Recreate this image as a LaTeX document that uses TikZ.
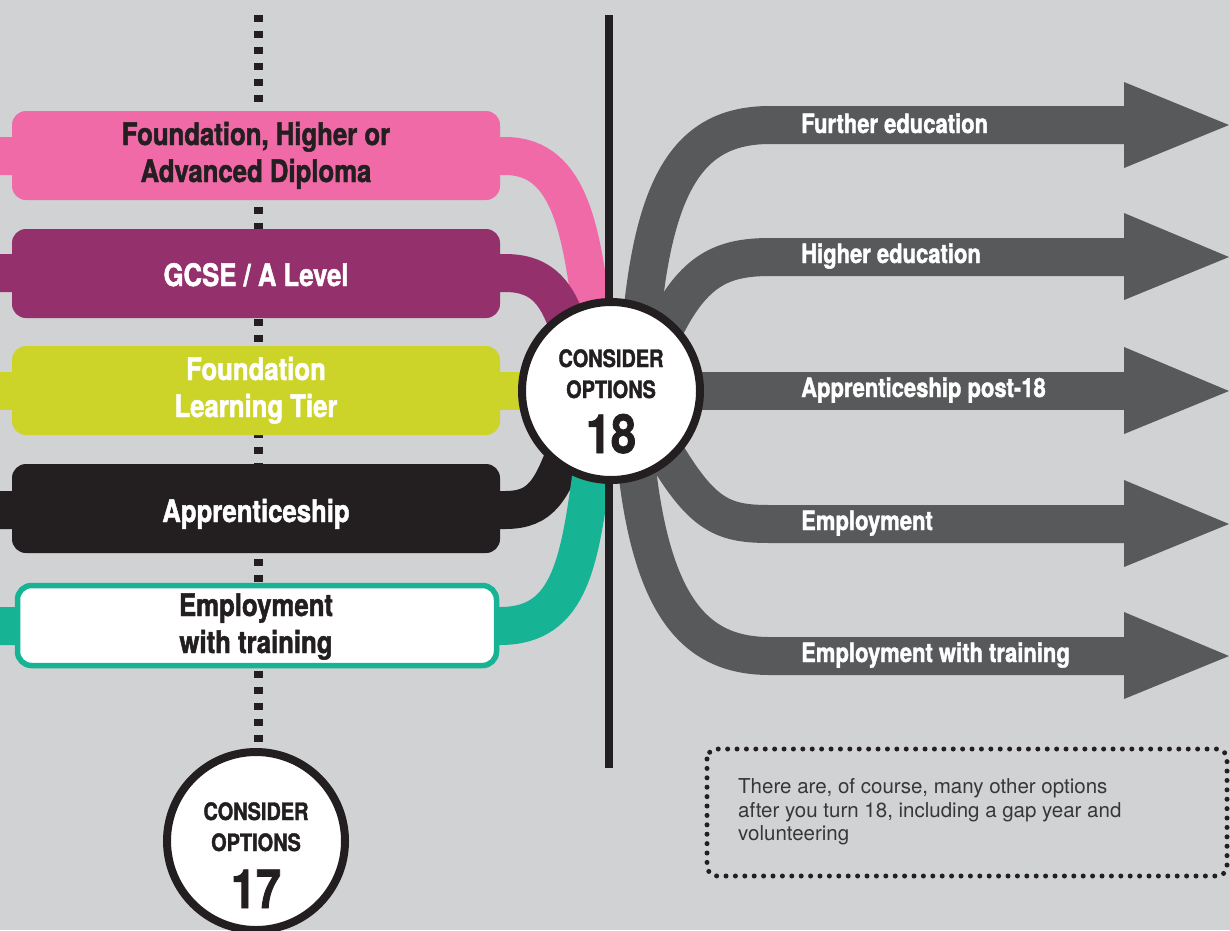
\documentclass[tikz,border=0pt]{standalone}
\usepackage{fontspec}
\newfontfamily\hfont{TeX Gyre Heros Bold}[FakeStretch=0.83,FakeBold=1.5]
\newfontfamily\nfont{TeX Gyre Heros}
\definecolor{bgc}{RGB}{209,210,212}
\definecolor{pinkc}{RGB}{240,106,167}
\definecolor{magc}{RGB}{148,48,108}
\definecolor{limec}{RGB}{204,212,42}
\definecolor{blackc}{RGB}{35,31,32}
\definecolor{tealc}{RGB}{22,180,149}
\definecolor{grayc}{RGB}{88,89,91}
\definecolor{notec}{RGB}{55,55,57}
\begin{document}
\begin{tikzpicture}[x=1pt,y=-1pt,
  band/.style={line width=38pt},
  boxnode/.style={rounded corners=14pt, minimum width=488pt, minimum height=89pt, inner sep=0pt},
  lbl/.style={font=\hfont\fontsize{31}{36}\selectfont, anchor=base, inner sep=0pt},
  alabel/.style={font=\hfont\fontsize{26.5}{30}\selectfont, text=white, anchor=base west, inner sep=0pt},
  ctext/.style={font=\hfont\fontsize{24}{28}\selectfont, text=blackc, anchor=base, inner sep=0pt},
  cnum/.style={font=\hfont\fontsize{54}{60}\selectfont, text=blackc, anchor=base, inner sep=0pt},
  ring/.style={circle, draw=blackc, line width=8pt, fill=white, minimum size=178pt, inner sep=0pt},
  ntext/.style={font=\nfont\fontsize{20.5}{24}\selectfont, text=notec, anchor=base west, inner sep=0pt}
]
\useasboundingbox (0,0) rectangle (1230,930);
\fill[bgc] (0,0) rectangle (1230,930);

% dotted vertical line (age 17)
\draw[blackc, line width=9pt, dash pattern=on 7pt off 9pt] (258,15) -- (258,752);

% coloured bands on the left
\draw[band, pinkc] (0,156) -- (505,156) .. controls (572,156) and (582,235) .. (594,330);
\draw[band, magc] (0,273) -- (505,273) .. controls (548,273) and (562,300) .. (575,350);
\draw[band, limec] (0,391) -- (611,391);
\draw[band, blackc] (0,510) -- (505,510) .. controls (542,510) and (552,490) .. (570,440);
\draw[band, tealc] (0,626) -- (500,626) .. controls (572,626) and (580,560) .. (594,455);

% grey arrows on the right
\begin{scope}[grayc]
\draw[band] (640,340) .. controls (652,180) and (690,125) .. (770,125) -- (1125,125);
\fill (1124,82) -- (1229,125) -- (1124,168) -- cycle;
\draw[band] (655,350) .. controls (688,272) and (718,257) .. (770,257) -- (1125,257);
\fill (1124,213) -- (1229,257) -- (1124,300) -- cycle;
\draw[band] (611,391) -- (1125,391);
\fill (1124,347) -- (1229,391) -- (1124,434) -- cycle;
\draw[band] (655,435) .. controls (700,515) and (720,524) .. (770,524) -- (1125,524);
\fill (1124,480) -- (1229,524) -- (1124,567) -- cycle;
\draw[band] (635,450) .. controls (650,615) and (700,656) .. (770,656) -- (1125,656);
\fill (1124,612) -- (1229,656) -- (1124,699) -- cycle;
\end{scope}

% solid vertical line (age 18)
\draw[blackc, line width=8pt] (609,15) -- (609,768);

% option boxes
\node[boxnode, fill=pinkc] (pinkbox) at (256,155.5) {};
\node[boxnode, fill=magc] (magbox) at (256,273.5) {};
\node[boxnode, fill=limec] (limebox) at (256,390.5) {};
\node[boxnode, fill=blackc] (blackbox) at (256,508.5) {};
\node[boxnode, fill=white, draw=tealc, line width=5.5pt, minimum width=479pt, minimum height=80pt] (tealbox) at (257,625.5) {};

\node[lbl, text=blackc] (p1) at (256,145) {Foundation, Higher or};
\node[lbl, text=blackc] (p2) at (256,182) {Advanced Diploma};
\node[lbl, text=white] (m1) at (256,286) {GCSE / A Level};
\node[lbl, text=white] (l1) at (256,380) {Foundation};
\node[lbl, text=white] (l2) at (256,417) {Learning Tier};
\node[lbl, text=white] (b1) at (256,522) {Apprenticeship};
\node[lbl, text=blackc] (t1) at (256,616) {Employment};
\node[lbl, text=blackc] (t2) at (256,653) {with training};

% circles
\node[ring] (c18) at (611,391) {};
\node[ctext] (c18a) at (611,367) {CONSIDER};
\node[ctext] (c18b) at (611,398) {OPTIONS};
\node[cnum] (c18c) at (611,453) {18};

\node[ring] (c17) at (256,841) {};
\node[ctext] (c17a) at (256,820) {CONSIDER};
\node[ctext] (c17b) at (256,851) {OPTIONS};
\node[cnum] (c17c) at (256,908) {17};

% arrow labels
\node[alabel] (a1) at (801,133) {Further education};
\node[alabel] (a2) at (801,263) {Higher education};
\node[alabel] (a3) at (801,397) {Apprenticeship post-18};
\node[alabel] (a4) at (801,530) {Employment};
\node[alabel] (a5) at (801,662) {Employment with training};

% note
\draw[blackc, line width=5pt, line cap=round, dash pattern=on 0pt off 9.4pt, rounded corners=10pt] (707,749) rectangle (1227,876);
\node[ntext] (n1) at (738,793) {There are, of course, many other options};
\node[ntext] (n2) at (738,817) {after you turn 18, including a gap year and};
\node[ntext] (n3) at (738,840) {volunteering};
\end{tikzpicture}
\end{document}
